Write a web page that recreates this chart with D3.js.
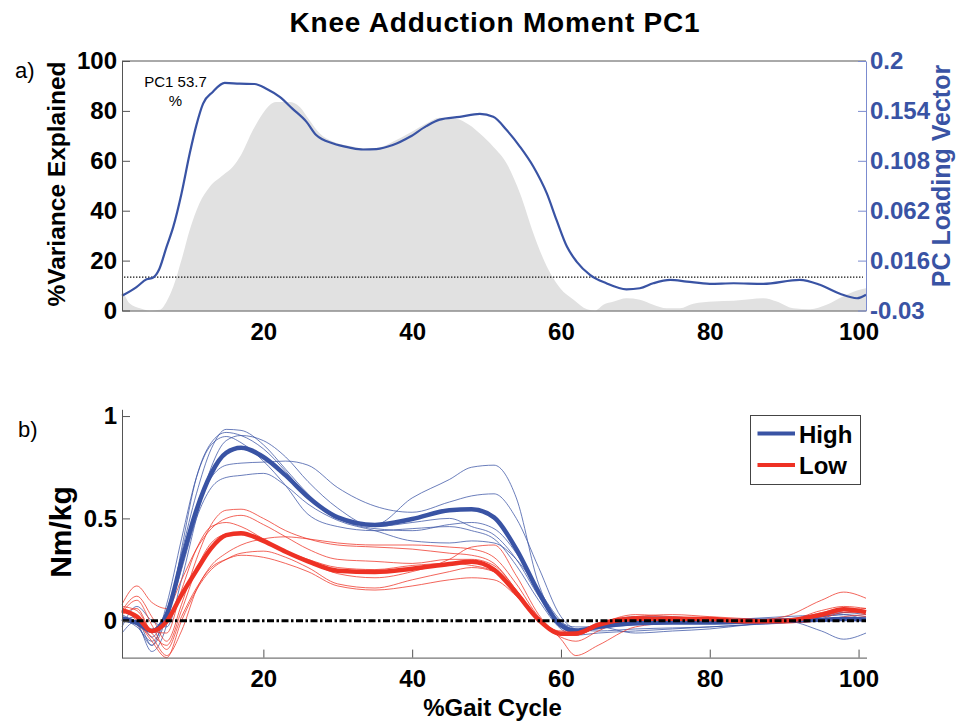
<!DOCTYPE html>
<html>
<head>
<meta charset="utf-8">
<script src="https://cdn.jsdelivr.net/npm/d3@7"></script>
<style>
  html, body { margin: 0; padding: 0; background: #fff; }
  svg { display: block; font-family: "Liberation Sans", Arial, Helvetica, sans-serif; }
</style>
</head>
<body>
<svg id="chart" width="958" height="725"></svg>
<script>
// ---------- Panel a) PC1: variance explained and loading vector ----------
const varPct = [1, 2, 3.4, 4.7, 6.1, 7, 7.9, 9, 10.1, 11.4, 12.8, 14.6, 15.9, 17, 18.6, 19.9, 21.7, 23.5, 24.9, 26.2, 27.6, 29.4, 31.6, 33.8, 35.6, 37.4, 39.7, 41.9, 43.7, 45.9, 47.7, 49.1, 50.9, 52.7, 54.5, 56.3, 58.1, 59.9, 61.7, 63.5, 64.6, 65.7, 67.1, 68.8, 70.6, 72.4, 74.2, 76, 77.8, 80.5, 83.2, 85.4, 87.2, 89, 91.2, 93.5, 95.7, 97.9, 99.8, 101];
const varExplained = [8.9, 2.9, 0.9, 0, 0.3, 3.6, 9.6, 20.3, 32.3, 42.9, 49.6, 54.3, 57.6, 62.3, 72.3, 78.9, 83.6, 83.6, 81.6, 76.3, 70.9, 67.6, 65.9, 64.9, 65.3, 67.6, 71.2, 74.9, 77.3, 76.9, 74.3, 70.9, 65.6, 58.9, 46.9, 30.9, 17.6, 8.9, 4.3, 0.5, 0, 2.3, 3.6, 4.9, 4.3, 2.3, 0.9, 0.9, 2.7, 3.6, 3.9, 4.5, 4.9, 3.6, 0.9, 0.5, 2.3, 5.6, 8.0, 8.9];

const loadingPct = [1, 2.9, 4.3, 5.2, 6, 7, 7.9, 9, 10.1, 11, 11.9, 13.2, 14.8, 16.8, 18.8, 20.4, 22.2, 23.9, 25.8, 27.1, 29.4, 31.6, 33.4, 35.2, 37.4, 39.7, 41.9, 43.7, 46.4, 49.1, 50.9, 52.7, 54.5, 56.3, 58.1, 59.4, 60.8, 62.1, 63.9, 66.1, 68.8, 70.6, 72.4, 74.7, 76.9, 80, 83.2, 87.2, 92.1, 94.8, 97.5, 99.8, 101];
const loadingVec = [-0.0164, -0.0086, -0.0013, 0.0004, 0.008, 0.0289, 0.0473, 0.0779, 0.1147, 0.1409, 0.1607, 0.1715, 0.1798, 0.1791, 0.1788, 0.1745, 0.1669, 0.1561, 0.1439, 0.1317, 0.1239, 0.1202, 0.1184, 0.1188, 0.1225, 0.1301, 0.14, 0.146, 0.1485, 0.1512, 0.1485, 0.1363, 0.1209, 0.1025, 0.0779, 0.0535, 0.0289, 0.0151, 0.0029, -0.0049, -0.0105, -0.0095, -0.0049, -0.0017, -0.0033, -0.0054, -0.0049, -0.0054, -0.0017, -0.0063, -0.0146, -0.0187, -0.0155];

const varThreshold = 13.4;
const varTicks = [0, 20, 40, 60, 80, 100];
const loadingTicks = [-0.03, 0.016, 0.062, 0.108, 0.154, 0.2];
const pcLabel = ["PC1 53.7", "%"];

// ---------- Panel b) knee adduction moment waveforms ----------
const gaitPct = [1, 3, 5, 7, 9, 11, 13, 15, 17, 20, 23, 26, 30, 35, 40, 45, 48, 51, 54, 57, 60, 62, 65, 70, 75, 80, 85, 90, 95, 98, 101];
const gaitTicks = [20, 40, 60, 80, 100];
const momentTicks = [0, 0.5, 1];

const highMean = [0.01, -0.01, -0.05, 0.03, 0.29, 0.54, 0.72, 0.82, 0.845, 0.80, 0.71, 0.605, 0.505, 0.468, 0.497, 0.54, 0.545, 0.505, 0.35, 0.14, -0.023, -0.048, -0.03, -0.012, -0.008, -0.008, -0.004, 0.0, 0.005, 0.008, 0.006];
const lowMean = [0.052, 0.02, -0.05, -0.003, 0.126, 0.245, 0.355, 0.418, 0.428, 0.39, 0.337, 0.29, 0.244, 0.238, 0.254, 0.277, 0.288, 0.25, 0.135, 0.005, -0.063, -0.062, -0.02, 0.01, 0.01, 0.008, -0.003, 0.0, 0.03, 0.056, 0.042];

const highSubjects = [
  [0.03, -0.02, -0.12, 0.02, 0.33, 0.62, 0.84, 0.935, 0.93, 0.86, 0.74, 0.62, 0.5, 0.47, 0.6, 0.69, 0.75, 0.76, 0.6, 0.18, -0.01, -0.03, -0.03, -0.02, -0.01, -0.01, 0.0, 0.01, 0.02, 0.03, 0.02],
  [0.0, 0.02, -0.08, 0.05, 0.3, 0.55, 0.7, 0.76, 0.77, 0.775, 0.78, 0.76, 0.65, 0.56, 0.53, 0.58, 0.61, 0.62, 0.5, 0.26, 0.02, -0.04, -0.05, -0.04, -0.035, -0.03, -0.02, -0.01, 0.0, 0.01, 0.01],
  [0.02, -0.01, -0.15, -0.02, 0.35, 0.7, 0.87, 0.92, 0.905, 0.84, 0.73, 0.6, 0.5, 0.45, 0.44, 0.47, 0.48, 0.45, 0.33, 0.14, -0.02, -0.05, -0.03, -0.06, -0.05, -0.04, -0.02, 0.0, -0.05, -0.09, -0.06],
  [-0.03, 0.07, 0.0, -0.03, 0.2, 0.5, 0.75, 0.88, 0.905, 0.88, 0.8, 0.68, 0.55, 0.46, 0.48, 0.5, 0.46, 0.42, 0.3, 0.12, -0.03, -0.06, -0.02, 0.02, 0.02, 0.0, 0.01, 0.02, 0.03, 0.04, 0.03],
  [0.01, -0.03, -0.1, 0.02, 0.25, 0.5, 0.65, 0.7, 0.71, 0.72, 0.66, 0.57, 0.49, 0.44, 0.39, 0.38, 0.39, 0.38, 0.3, 0.15, 0.0, -0.05, -0.04, -0.01, 0.0, 0.005, 0.01, 0.01, 0.02, 0.03, 0.0],
  [-0.06, 0.0, -0.12, 0.08, 0.4, 0.7, 0.86, 0.9, 0.87, 0.78, 0.66, 0.52, 0.46, 0.44, 0.45, 0.46, 0.44, 0.4, 0.27, 0.1, -0.04, -0.07, -0.06, -0.05, -0.04, -0.03, -0.02, -0.01, 0.02, 0.04, 0.05]
];
const lowSubjects = [
  [0.05, 0.12, 0.02, -0.1, 0.08, 0.3, 0.47, 0.54, 0.545, 0.5, 0.44, 0.4, 0.37, 0.36, 0.35, 0.33, 0.32, 0.28, 0.15, 0.0, -0.07, -0.07, -0.02, 0.03, 0.02, 0.01, 0.0, 0.02, 0.1, 0.14, 0.11],
  [0.08, 0.17, 0.09, 0.06, 0.2, 0.35, 0.45, 0.5, 0.515, 0.47, 0.41, 0.35, 0.3, 0.29, 0.28, 0.3, 0.3, 0.27, 0.15, 0.0, -0.08, -0.1, -0.05, 0.02, 0.03, 0.02, 0.01, 0.0, 0.04, 0.06, 0.05],
  [0.03, 0.06, -0.05, -0.06, 0.15, 0.35, 0.46, 0.48, 0.46, 0.4, 0.34, 0.29, 0.23, 0.21, 0.24, 0.3, 0.36, 0.37, 0.22, 0.03, -0.09, -0.17, -0.12, -0.03, -0.01, 0.0, 0.0, 0.0, 0.02, 0.05, 0.06],
  [0.02, -0.02, -0.08, -0.17, -0.05, 0.15, 0.27, 0.33, 0.37, 0.4, 0.41, 0.4, 0.38, 0.37, 0.37, 0.36, 0.35, 0.31, 0.18, 0.02, -0.06, -0.07, -0.03, 0.0, 0.01, 0.01, 0.0, 0.0, 0.05, 0.07, 0.06],
  [0.06, 0.0, -0.1, -0.18, 0.0, 0.15, 0.25, 0.3, 0.33, 0.34, 0.31, 0.26, 0.18, 0.16, 0.2, 0.24, 0.26, 0.24, 0.13, 0.0, -0.06, -0.06, -0.02, 0.01, 0.01, 0.005, 0.0, -0.01, 0.0, 0.01, 0.02],
  [0.04, 0.1, -0.02, -0.14, 0.02, 0.16, 0.26, 0.3, 0.32, 0.31, 0.28, 0.24, 0.17, 0.15, 0.17, 0.2, 0.21, 0.2, 0.12, 0.0, -0.05, -0.05, -0.01, 0.02, 0.01, 0.0, -0.01, -0.01, 0.0, 0.02, 0.03],
  [0.07, 0.05, -0.06, -0.12, 0.05, 0.25, 0.38, 0.42, 0.42, 0.39, 0.34, 0.3, 0.26, 0.25, 0.27, 0.28, 0.27, 0.24, 0.14, 0.0, -0.06, -0.07, -0.03, 0.0, 0.0, 0.0, 0.0, -0.01, 0.01, 0.04, 0.04]
];
const groupNames = ["High", "Low"];

// ---------- styling ----------
const BLUE = "#3953a4";
const RED = "#ee3124";
const AXIS = "#555";
const FONT = '"Liberation Sans", Arial, Helvetica, sans-serif';

const svg = d3.select("#chart");

svg.append("text")
  .attr("x", 495).attr("y", 32)
  .attr("text-anchor", "middle")
  .attr("font-size", 28).attr("font-weight", "bold")
  .attr("letter-spacing", 0.8)
  .text("Knee Adduction Moment PC1");

function styleAxis(g, color, textColor) {
  g.attr("font-family", FONT).attr("font-size", 24).attr("font-weight", "bold");
  g.select(".domain").attr("stroke", color).attr("stroke-width", 1);
  g.selectAll(".tick line").attr("stroke", color).attr("stroke-width", 1);
  g.selectAll(".tick text").attr("fill", textColor);
}

// ================= Panel a =================
const xA = d3.scaleLinear().domain([1, 101]).range([122, 866]);
const yA = d3.scaleLinear().domain([0, 100]).range([310.5, 61]);
const yL = d3.scaleLinear().domain([-0.03, 0.2]).range([310.5, 61]);

const areaPts = varPct.map((p, i) => [p, varExplained[i]]);
svg.append("path")
  .datum(areaPts)
  .attr("fill", "#e1e1e1")
  .attr("d", d3.area().x(d => xA(d[0])).y0(yA(0)).y1(d => yA(d[1])).curve(d3.curveMonotoneX));

svg.append("line")
  .attr("x1", xA(1) + 2).attr("x2", xA(101) - 3)
  .attr("y1", yA(varThreshold)).attr("y2", yA(varThreshold))
  .attr("stroke", "#111").attr("stroke-width", 1.2)
  .attr("stroke-dasharray", "1.4,1.6");

const loadPts = loadingPct.map((p, i) => [p, loadingVec[i]]);
svg.append("path")
  .datum(loadPts)
  .attr("fill", "none").attr("stroke", BLUE).attr("stroke-width", 2.2)
  .attr("d", d3.line().x(d => xA(d[0])).y(d => yL(d[1])).curve(d3.curveMonotoneX));

// frame top edge
svg.append("line")
  .attr("x1", 122).attr("x2", 866).attr("y1", 61).attr("y2", 61)
  .attr("stroke", AXIS).attr("stroke-width", 1);

const gAx = svg.append("g").attr("transform", "translate(0,310.5)")
  .call(d3.axisBottom(xA).tickValues(gaitTicks).tickSizeInner(0).tickSizeOuter(0).tickPadding(12));
styleAxis(gAx, AXIS, "#000");

const gAy = svg.append("g").attr("transform", "translate(122,0)")
  .call(d3.axisLeft(yA).tickValues(varTicks).tickSizeInner(-8).tickSizeOuter(0).tickPadding(5));
styleAxis(gAy, AXIS, "#000");

const gAr = svg.append("g").attr("transform", "translate(866,0)")
  .call(d3.axisRight(yL).tickValues(loadingTicks).tickFormat(d => String(d)).tickSizeInner(-8).tickSizeOuter(0).tickPadding(4));
styleAxis(gAr, "#7b8bcf", BLUE);

svg.append("text")
  .attr("transform", "translate(65,184) rotate(-90)")
  .attr("text-anchor", "middle")
  .attr("font-size", 24.5).attr("font-weight", "bold")
  .text("%Variance Explained");

svg.append("text")
  .attr("transform", "translate(950,176) rotate(-90)")
  .attr("text-anchor", "middle")
  .attr("font-size", 25).attr("font-weight", "bold")
  .attr("fill", BLUE)
  .text("PC Loading Vector");

svg.append("text").attr("x", 15).attr("y", 78)
  .attr("font-size", 22).text("a)");

svg.selectAll(".pclabel").data(pcLabel).enter().append("text")
  .attr("class", "pclabel")
  .attr("x", 175.5).attr("y", (d, i) => 87 + i * 18.5)
  .attr("text-anchor", "middle")
  .attr("font-size", 15)
  .text(d => d);

// ================= Panel b =================
const xB = d3.scaleLinear().domain([1, 101]).range([122, 866]);
const yB = d3.scaleLinear().domain([-0.18, 1.033]).range([657.6, 409.3]);

const lineB = d3.line().x((d, i) => xB(gaitPct[i])).y(d => yB(d)).curve(d3.curveMonotoneX);

const plotB = svg.append("g");
plotB.selectAll(".hsub").data(highSubjects).enter().append("path")
  .attr("class", "hsub")
  .attr("fill", "none").attr("stroke", BLUE).attr("stroke-opacity", 0.75).attr("stroke-width", 1)
  .attr("d", lineB);
plotB.selectAll(".lsub").data(lowSubjects).enter().append("path")
  .attr("class", "lsub")
  .attr("fill", "none").attr("stroke", RED).attr("stroke-opacity", 0.75).attr("stroke-width", 1)
  .attr("d", lineB);
plotB.append("path").datum(highMean)
  .attr("fill", "none").attr("stroke", BLUE).attr("stroke-width", 4.5)
  .attr("d", lineB);
plotB.append("path").datum(lowMean)
  .attr("fill", "none").attr("stroke", RED).attr("stroke-width", 4.5)
  .attr("d", lineB);

// zero reference line
svg.append("line")
  .attr("x1", xB(1)).attr("x2", xB(101))
  .attr("y1", yB(0)).attr("y2", yB(0))
  .attr("stroke", "#000").attr("stroke-width", 3)
  .attr("stroke-dasharray", "7,2.5,2.5,2.5");

const gBx = svg.append("g").attr("transform", "translate(0,657.6)")
  .call(d3.axisBottom(xB).tickValues(gaitTicks).tickSizeInner(-8).tickSizeOuter(0).tickPadding(12));
styleAxis(gBx, AXIS, "#000");
gBx.select(".domain").attr("d", "M122,0.5H867");

const gBy = svg.append("g").attr("transform", "translate(122,0)")
  .call(d3.axisLeft(yB).tickValues(momentTicks).tickFormat(d => String(d)).tickSizeInner(-8).tickSizeOuter(0).tickPadding(5));
styleAxis(gBy, AXIS, "#000");

svg.append("text")
  .attr("transform", "translate(71,532) rotate(-90)")
  .attr("text-anchor", "middle")
  .attr("font-size", 30).attr("font-weight", "bold")
  .text("Nm/kg");

svg.append("text")
  .attr("x", 492.5).attr("y", 716)
  .attr("text-anchor", "middle")
  .attr("font-size", 24).attr("font-weight", "bold")
  .text("%Gait Cycle");

svg.append("text").attr("x", 18).attr("y", 437)
  .attr("font-size", 22).text("b)");

// legend
const legend = svg.append("g").attr("transform", "translate(750,415)");
legend.append("rect")
  .attr("x", 0.5).attr("y", 0.5).attr("width", 110).attr("height", 69)
  .attr("fill", "#fff").attr("stroke", "#444").attr("stroke-width", 1);
const legendColors = [BLUE, RED];
groupNames.forEach((name, i) => {
  const yy = 18.5 + i * 31.5;
  legend.append("line")
    .attr("x1", 7.5).attr("x2", 45).attr("y1", yy).attr("y2", yy)
    .attr("stroke", legendColors[i]).attr("stroke-width", 4);
  legend.append("text")
    .attr("x", 49).attr("y", yy + 9)
    .attr("font-size", 24).attr("font-weight", "bold")
    .text(name);
});
</script>
</body>
</html>
